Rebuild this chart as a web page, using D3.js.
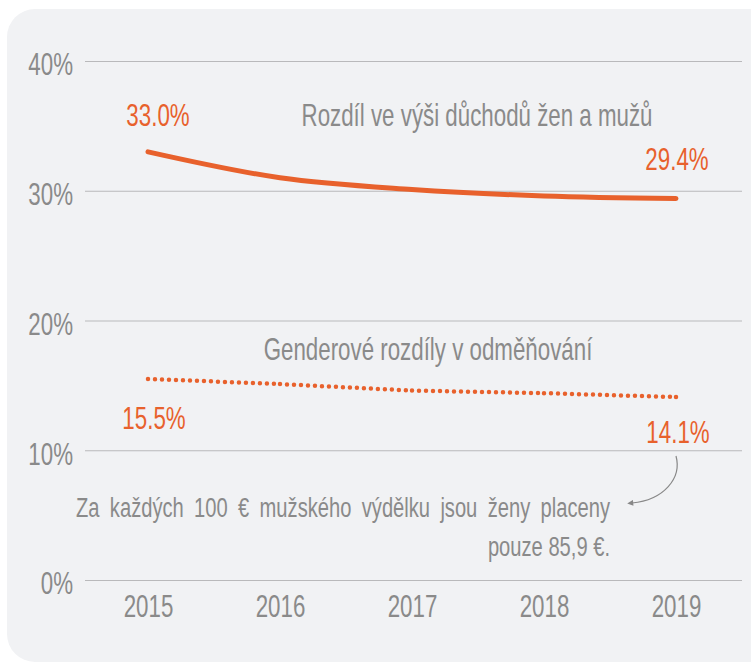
<!DOCTYPE html>
<html>
<head>
<meta charset="utf-8">
<script src="https://cdn.jsdelivr.net/npm/d3@7"></script>
<style>
  body { margin: 0; background: #fff; }
  text { font-family: "Liberation Sans", Arial, sans-serif; }
</style>
</head>
<body>
<div id="chart"></div>
<script>
let width = 751;
let height = 664;

// data
let years = [2015, 2016, 2017, 2018, 2019];
let pensionGap = [33.0, 31.0, 30.1, 29.6, 29.4];
let payGap = [15.5, 15.1, 14.6, 14.4, 14.1];
let yTicks = [0, 10, 20, 30, 40];

let orange = '#e8612c';
let grey = '#8a8a8a';
let sx = 0.72; // condensed look

const svg = d3.select('#chart').append('svg')
  .attr('width', width)
  .attr('height', height);

// panel
svg.append('rect')
  .attr('x', 7).attr('y', 9)
  .attr('width', 770).attr('height', 653)
  .attr('rx', 28)
  .attr('fill', '#f1f2f4');

let x = d3.scalePoint()
  .domain(years)
  .range([148, 676]);

let y = d3.scaleLinear()
  .domain([0, 40])
  .range([580, 61]);

// 文字 helper
let label = (str, px, py, size, fill, anchor) => svg.append('text')
  .attr('transform', `translate(${px},${py}) scale(${sx},1)`)
  .attr('text-anchor', anchor || 'middle')
  .attr('fill', fill)
  .attr('font-size', size)
  .text(str);

// gridlines + y labels
let yAxis = g => g
  .attr('transform', 'translate(85,0)')
  .call(d3.axisRight(y).tickValues(yTicks).tickSize(657).tickFormat(d => d + '%'))
  .call(g => g.select('.domain').remove())
  .call(g => g.selectAll('.tick line').attr('stroke', '#b9b9bb').attr('stroke-width', 1.2))
  .call(g => g.selectAll('.tick text')
    .attr('transform', `scale(${sx},1)`)
    .attr('x', -12 / sx).attr('dy', '0.45em')
    .attr('text-anchor', 'end')
    .attr('fill', grey).attr('font-size', 31));

svg.append('g').call(yAxis);

// x labels
let xAxis = g => g
  .attr('transform', 'translate(0,617)')
  .call(d3.axisBottom(x).tickSize(0).tickFormat(d3.format('d')))
  .call(g => g.select('.domain').remove())
  .call(g => g.selectAll('.tick text')
    .attr('y', 0).attr('dy', 0)
    .attr('transform', `scale(${sx},1)`)
    .attr('fill', grey).attr('font-size', 31));

svg.append('g').call(xAxis);

let line = d3.line()
  .x((d, i) => x(years[i]))
  .y(d => y(d))
  .curve(d3.curveMonotoneX);

svg.append('path')
  .datum(pensionGap)
  .attr('fill', 'none')
  .attr('stroke', orange)
  .attr('stroke-width', 5)
  .attr('stroke-linecap', 'round')
  .attr('stroke-linejoin', 'round')
  .attr('d', line);

// dotted line, one segment per year
let pts = payGap.map((v, i) => [x(years[i]), y(v)]);
svg.append('g').selectAll('path')
  .data(d3.pairs(pts))
  .join('path')
  .attr('fill', 'none')
  .attr('stroke', orange)
  .attr('stroke-width', 4.5)
  .attr('stroke-linecap', 'round')
  .attr('stroke-dasharray', '0 7')
  .attr('d', d => d3.line()(d));

// end dot
svg.append('circle')
  .attr('cx', pts[4][0]).attr('cy', pts[4][1])
  .attr('r', 2.25)
  .attr('fill', orange);

// value labels
label(pensionGap[0].toFixed(1) + '%', x(2015) + 10, y(pensionGap[0]) - 26, 31, orange);
label(pensionGap[4].toFixed(1) + '%', x(2019) + 1, y(pensionGap[4]) - 29, 31, orange);
label(payGap[0].toFixed(1) + '%', x(2015) + 6, y(payGap[0]) + 50, 31, orange);
label(payGap[4].toFixed(1) + '%', x(2019) + 2, y(payGap[4]) + 46, 31, orange);

// series titles
label('Rozdíl ve výši důchodů žen a mužů', 477, 126, 31, grey);
label('Genderové rozdíly v odměňování', 428, 360, 31, grey);

// annotation (justified)
let note = label('Za každých 100 € mužského výdělku jsou ženy placeny', 76, 517, 28, grey, 'start');
let natural = note.node().getComputedTextLength();
let gaps = note.text().split(' ').length - 1;
note.attr('word-spacing', (534 / sx - natural) / gaps);

label('pouze 85,9 €.', 610, 556, 28, grey, 'end');

svg.append('defs').append('marker')
  .attr('id', 'arr')
  .attr('viewBox', '0 0 10 10')
  .attr('refX', 2).attr('refY', 5)
  .attr('markerWidth', 8).attr('markerHeight', 6)
  .attr('markerUnits', 'userSpaceOnUse')
  .attr('orient', 'auto')
  .append('path')
  .attr('d', 'M0,0 L10,5 L0,10 z')
  .attr('fill', '#888');

svg.append('path')
  .attr('d', `M${x(2019)},456 C${x(2019) + 6},478 ${x(2019) - 12},500 ${x(2019) - 44},503`)
  .attr('fill', 'none')
  .attr('stroke', '#888')
  .attr('stroke-width', 1.2)
  .attr('marker-end', 'url(#arr)');
</script>
</body>
</html>
